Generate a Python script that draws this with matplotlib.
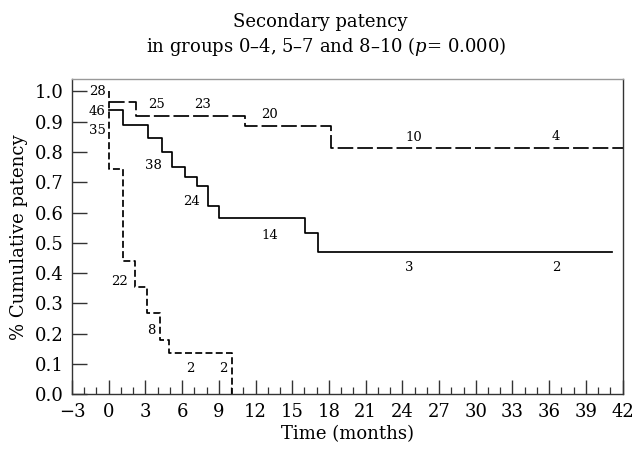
import matplotlib
matplotlib.use("Agg")
import matplotlib.pyplot as plt
from matplotlib.ticker import MultipleLocator
import numpy as np

plt.rcParams['font.family'] = ['DejaVu Serif']
plt.rcParams['mathtext.fontset'] = 'dejavuserif'

# Group 0-4 (short dashes)
g04_t = [0, 0, 1.2, 2.15, 3.1, 4.2, 4.95, 10.05]
g04_s = [1.0, 0.745, 0.44, 0.355, 0.27, 0.18, 0.135, 0.0]
# Group 5-7 (solid)
g57_t = [0, 1.14, 3.2, 4.33, 5.15, 6.23, 7.19, 8.09, 9.04, 16.04, 17.1, 41.1]
g57_s = [0.94, 0.889, 0.847, 0.80, 0.749, 0.718, 0.688, 0.621, 0.583, 0.533, 0.471, 0.471]
# Group 8-10 (long dashes)
g810_t = [0, 2.2, 11.1, 18.2, 42]
g810_s = [0.964, 0.92, 0.885, 0.812, 0.812]

# Numbers at risk annotations
risk_labels = ["28", "46", "35", "25", "23", "20", "10", "4",
               "38", "24", "14", "3", "2", "22", "8", "2", "2"]
risk_x = [-0.95, -0.95, -0.95, 3.92, 7.68, 13.1, 24.97, 36.55,
          3.65, 6.78, 13.18, 24.56, 36.55, 0.92, 3.5, 6.64, 9.36]
risk_y = [1.0, 0.935, 0.87, 0.958, 0.958, 0.925, 0.847, 0.852,
          0.757, 0.638, 0.523, 0.418, 0.418, 0.372, 0.212, 0.086, 0.086]

x_major = np.arange(-3, 43, 3)
y_major = np.round(np.arange(0, 1.01, 0.1), 1)

fig = plt.figure(figsize=(6.34, 4.49), dpi=100)
ax = fig.add_axes([0.1136, 0.1218, 0.982 - 0.1136, 0.8234 - 0.1218])

lw = 1.25
ax.plot(g04_t, g04_s, drawstyle='steps-post', color='black', lw=lw,
        linestyle=(0, (4.0, 1.9)))
ax.plot(g57_t, g57_s, drawstyle='steps-post', color='black', lw=lw,
        linestyle='-')
ax.plot(g810_t, g810_s, drawstyle='steps-post', color='black', lw=lw,
        linestyle=(0, (9, 2.3)))

for lab, x, y in zip(risk_labels, risk_x, risk_y):
    ax.text(x, y, lab, fontsize=9.5, ha='center', va='center')

ax.set_xlim(-3, 42)
ax.set_ylim(0, 1.04)
ax.set_xticks(x_major)
ax.set_xticklabels([("\u2212" + str(-v)) if v < 0 else str(v) for v in x_major])
ax.xaxis.set_minor_locator(MultipleLocator(1))
ax.set_yticks(y_major)
ax.set_yticklabels([f"{v:.1f}" for v in y_major])

ax.tick_params(axis='x', which='major', direction='in', length=10, width=1,
               labelsize=13, pad=6, color='#333333')
ax.tick_params(axis='x', which='minor', direction='in', length=5, width=0.9,
               color='#333333')
ax.tick_params(axis='y', which='major', direction='in', length=10.5, width=1,
               labelsize=13, pad=6, color='#333333')

for side in ['left', 'bottom', 'right']:
    ax.spines[side].set_color('#333333')
    ax.spines[side].set_linewidth(1.0)
ax.spines['top'].set_color('#999999')
ax.spines['top'].set_linewidth(1.0)

ax.set_xlabel("Time (months)", fontsize=13, labelpad=3)
ax.set_ylabel("% Cumulative patency", fontsize=13, labelpad=5)

fig.text(0.505, 1 - 22 / 449, "Secondary patency", fontsize=13,
         ha='center', va='center')
fig.text(0.515, 1 - 47 / 449, r"in groups 0–4, 5–7 and 8–10 ($p$= 0.000)",
         fontsize=13, ha='center', va='center')

fig.savefig("out.png", dpi=100)
